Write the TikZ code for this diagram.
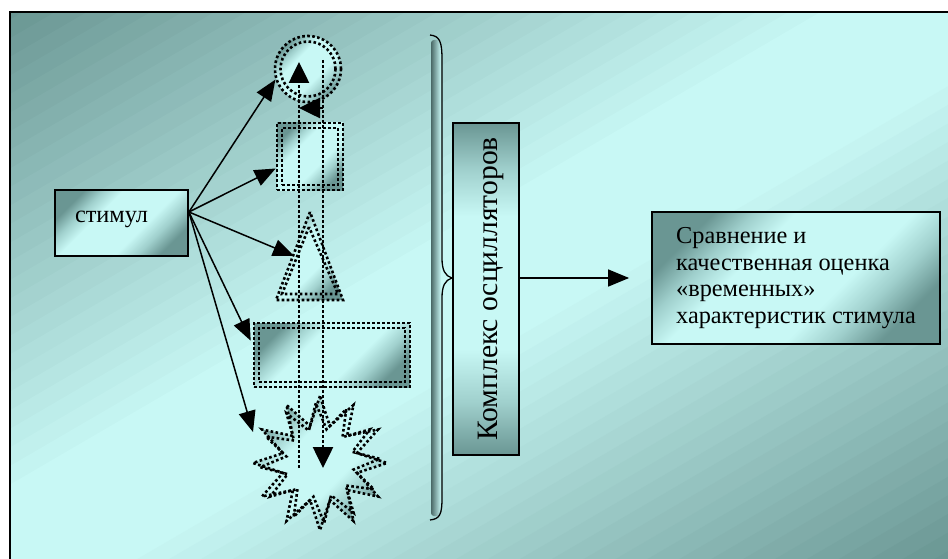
\documentclass[tikz,border=0pt]{standalone}
\usepackage{fontspec}
\setmainfont{Liberation Serif}
\usetikzlibrary{shapes,arrows.meta,calc,positioning}
\definecolor{bgdark}{RGB}{106,150,147}
\definecolor{bgmid}{RGB}{160,208,205}
\definecolor{bglight}{RGB}{200,248,245}
\pgfdeclareverticalshading{glassy}{100bp}{color(0bp)=(bgdark); color(25bp)=(bgdark);
  color(33bp)=(bgmid); color(41bp)=(bglight); color(61bp)=(bglight);
  color(68bp)=(bgmid); color(75bp)=(bgdark); color(100bp)=(bgdark)}
\tikzstyle{arrow} = [line width=1.5pt, -{Triangle[length=21pt,width=17pt]}]
\tikzstyle{dotline} = [draw, line width=2.6pt, dash pattern=on 2.6pt off 2.4pt]
\tikzstyle{dotarrow} = [dotline, -{Triangle[length=21pt,width=20pt]}]
\tikzstyle{grad} = [shading=glassy, shading angle=45]
\tikzstyle{txtbox} = [draw, line width=1.8pt, grad, inner sep=0pt]

\begin{document}
\begin{tikzpicture}[x=1pt,y=-1pt]
\useasboundingbox (0,0) rectangle (948,559);
% slide background, dark corners top left and bottom right
\begin{scope}
\clip (10,12) rectangle (948,559);
\foreach \i in {0,...,59} {
  \pgfmathsetmacro\ta{-1.02+\i*0.034}
  \pgfmathsetmacro\tb{\ta+0.036}
  \pgfmathsetmacro\p{max(0,min(100,100*(abs(\ta+0.017)-0.12)/0.88))}
  \pgfmathsetmacro\xa{479+469*(\ta-1.2)} \pgfmathsetmacro\ya{285.5+273.5*(\ta+1.2)}
  \pgfmathsetmacro\xb{479+469*(\ta+1.2)} \pgfmathsetmacro\yb{285.5+273.5*(\ta-1.2)}
  \pgfmathsetmacro\xc{479+469*(\tb+1.2)} \pgfmathsetmacro\yc{285.5+273.5*(\tb-1.2)}
  \pgfmathsetmacro\xd{479+469*(\tb-1.2)} \pgfmathsetmacro\yd{285.5+273.5*(\tb+1.2)}
  \fill[bgdark!\p!bglight] (\xa,\ya) -- (\xb,\yb) -- (\xc,\yc) -- (\xd,\yd) -- cycle;
}
\end{scope}
\draw[line width=2pt] (10,570) -- (10,12) -- (960,12);

% stimulus
\node[txtbox, minimum width=133pt, minimum height=66pt, text width=93pt,
  inner xsep=20pt, align=left, text depth=12pt, font=\fontsize{24.3}{27}\selectfont]
  (stim) at (121.5,223) {стимул};
\coordinate (fan) at ($(stim.east)+(0,-11)$);

% oscillators
\node[circle, dotline, grad, minimum size=66pt, inner sep=0pt] (circ) at (308,69) {};
\node[circle, dotline, minimum size=55pt, inner sep=0pt] (circ-in) at (circ) {};
\node[dotline, grad, minimum width=66pt, minimum height=67pt, inner sep=0pt] (sq) at (310,156.5) {};
\node[dotline, minimum width=56pt, minimum height=57pt, inner sep=0pt] (sq-in) at (sq) {};
\draw[dotline, grad] (310,212) coordinate (tri-top) -- (276,300) -- (343,300) -- cycle;
\draw[dotline] (309,227) -- (282,294) -- (338,294) -- cycle;
\coordinate (tri-l) at (294,256);
\node[dotline, grad, minimum width=156pt, minimum height=64pt, inner sep=0pt] (wrect) at (332,355) {};
\node[dotline, minimum width=146pt, minimum height=54pt, inner sep=0pt] (wrect-in) at (wrect) {};
\node[star, star points=12, star point ratio=1.75, dotline, grad, minimum size=134pt, inner sep=0pt] (star) at (320,463) {};
\node[star, star points=12, star point ratio=1.75, dotline, minimum size=120pt, inner sep=0pt, rotate=4] (star-in) at (star) {};

% dotted links
\coordinate (up-from) at (299,468);
\coordinate (up-to) at (299,62);
\coordinate (down-from) at (323,60);
\coordinate (down-to) at (323,468);
\draw[dotarrow] (up-from) -- (up-to);
\draw[dotarrow] (down-from) -- (down-to);
\draw[dotarrow] ($(down-from)+(0,48)$) -- ($(up-to)+(0,46)$);

% stimulus to oscillators
\draw[arrow] (fan) -- (circ.198);
\draw[arrow] (fan) -- ($(sq.west)+(0,12)$);
\draw[arrow] (fan) -- (tri-l);
\draw[arrow] (fan) -- ($(wrect.north west)+(-2,19)$);
\draw[arrow] (fan) -- (253,432);

% brace
\shade[left color=bgdark!70!black, right color=bglight, rounded corners=3pt] (431,40) rectangle (441,516);
\draw[line width=1.3pt] (430,35) .. controls (440,36) and (442,42) .. (442,60)
  -- (442,258) .. controls (442,270) and (445,276) .. (452,278)
  .. controls (445,280) and (442,286) .. (442,298)
  -- (442,498) .. controls (442,514) and (440,519) .. (430,520);

% complex
\node[txtbox, minimum width=332pt, minimum height=66pt, rotate=90, shading angle=0,
  font=\fontsize{29.6}{32}\selectfont, text height=30pt] (osc) at (486,289) {Комплекс осцилляторов};

% comparison
\node[txtbox, minimum width=288pt, minimum height=132pt, align=left,
  font=\fontsize{24.3}{26.7}\selectfont] (cmp) at (796,278)
  {Сравнение и\\качественная оценка\\«временных»\\характеристик стимула};
\draw[arrow, shorten >=22pt] (osc.south |- cmp.west) -- (cmp.west);
\end{tikzpicture}
\end{document}
